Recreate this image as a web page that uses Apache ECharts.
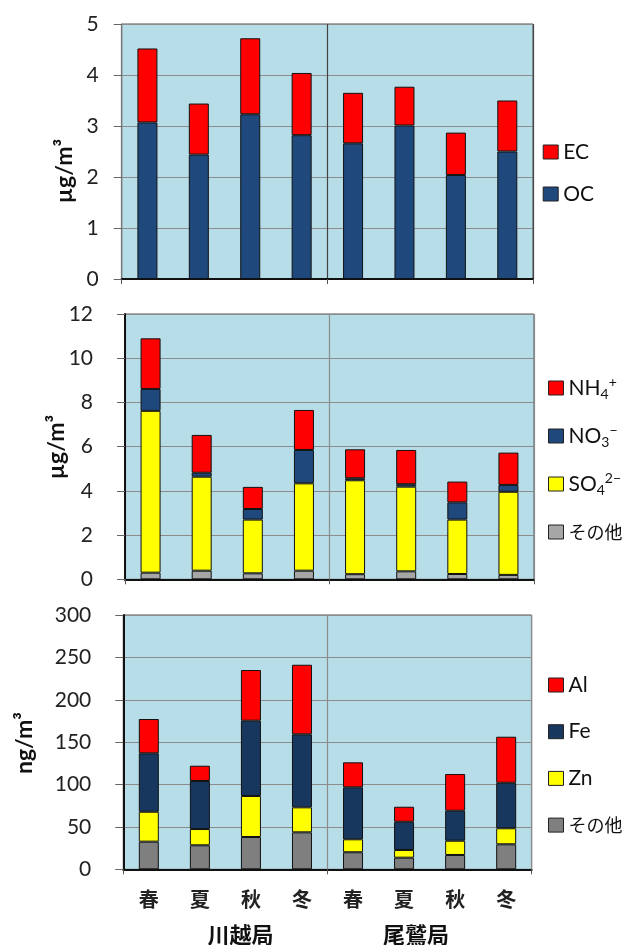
<!DOCTYPE html>
<html>
<head>
<meta charset="utf-8">
<script src="https://cdn.jsdelivr.net/npm/echarts@6/dist/echarts.min.js"></script>
<style>
html,body{margin:0;padding:0;background:#fff;}
#chart{width:627px;height:945px;}
</style>
</head>
<body>
<div id="chart"></div>
<script>
// ---- data ----
const seasons = ['春','夏','秋','冬','春','夏','秋','冬'];
const stations = ['川越局','尾鷲局'];

// panel 1 (µg/m3)
const ocVals = [3.07, 2.44, 3.23, 2.82, 2.66, 3.01, 2.04, 2.50];
const ecVals = [1.45, 1.00, 1.49, 1.22, 0.99, 0.76, 0.83, 1.00];

// panel 2 (µg/m3)
const ionOther = [0.30, 0.39, 0.27, 0.39, 0.23, 0.36, 0.24, 0.20];
const so4Vals  = [7.32, 4.25, 2.43, 3.95, 4.25, 3.83, 2.46, 3.76];
const no3Vals  = [0.99, 0.18, 0.48, 1.51, 0.09, 0.11, 0.78, 0.31];
const nh4Vals  = [2.29, 1.71, 1.00, 1.81, 1.31, 1.55, 0.94, 1.46];

// panel 3 (ng/m3)
const metalOther = [32.6, 28.3, 38.1, 43.6, 20.1, 13.7, 16.9, 29.5];
const znVals     = [35.3, 19.2, 48.4, 29.5, 15.3, 9.1, 16.8, 18.9];
const feVals     = [68.9, 56.7, 88.8, 86.1, 61.3, 33.3, 35.4, 53.7];
const alVals     = [40.5, 18.0, 59.8, 82.1, 29.5, 17.7, 43.3, 54.3];

// axis ranges
const yMax = [5, 12, 300];
const yStep = [1, 2, 50];
const yNames = ['µg/m³', 'µg/m³', 'ng/m³'];

// ---- chart ----
const FONT = 'Lato, "Noto Sans CJK JP", sans-serif';
const CJK = '"Noto Sans CJK JP", sans-serif';
const BG = '#b7dde8';
const RED = '#ff0000', BLUE = '#1f497d', NAVY = '#17375e', YEL = '#ffff00';

const grids = [
  {left: 121.7, top: 24, width: 411.3, height: 255},
  {left: 125, top: 314, width: 409, height: 265.3},
  {left: 123.3, top: 615, width: 408.4, height: 254.3}
].map(g => Object.assign(g, {show: true, backgroundColor: BG, borderColor: '#555', borderWidth: 1}));

const dividerColor = ['#444', '#8c8c8c', '#8c8c8c'];
const xAxes = [0,1,2].map(i => ({
  type: 'category', gridIndex: i, data: seasons, position: 'bottom',
  axisLine: {lineStyle: {color: '#111', width: 2}},
  axisTick: {show: false},
  splitLine: {show: false},
  axisLabel: i === 2 ? {show: true, interval: 0, margin: 20, fontFamily: CJK, fontWeight: 'bold', fontSize: 20, color: '#222'} : {show: false}
})).concat([0,1,2].map(i => ({
  // group divider axis: one tick per station group
  type: 'value', gridIndex: i, min: 0, max: seasons.length, interval: seasons.length / stations.length,
  position: 'bottom', offset: 0,
  axisLine: {show: false},
  axisTick: {show: true, length: 5, lineStyle: {color: '#555'}},
  axisLabel: {show: false},
  splitLine: {show: true, lineStyle: {color: dividerColor[i], width: 1.2}}
})));

const yAxes = [0,1,2].map(i => ({
  type: 'value', gridIndex: i, min: 0, max: yMax[i], interval: yStep[i],
  axisLine: {show: true, lineStyle: {color: i === 0 ? '#777' : '#111', width: i === 0 ? 1 : 2}},
  axisTick: {show: true, length: 8, lineStyle: {color: '#666'}},
  splitLine: {show: true, lineStyle: {color: '#8c8c8c', width: 1.2}},
  axisLabel: {margin: i === 0 ? 23 : 32, fontFamily: FONT, fontSize: 21, color: '#222'}
}));

const itemBorder = {borderColor: '#111', borderWidth: 1};
function bar(name, data, idx, color) {
  return {
    name: name, type: 'bar', stack: 'p' + idx, xAxisIndex: idx, yAxisIndex: idx,
    data: data, barWidth: 20,
    itemStyle: Object.assign({color: color}, itemBorder)
  };
}

const series = [
  bar('OC', ocVals, 0, BLUE),
  bar('EC', ecVals, 0, RED),
  bar('その他', ionOther, 1, '#a6a6a6'),
  bar('SO4', so4Vals, 1, YEL),
  bar('NO3', no3Vals, 1, BLUE),
  bar('NH4', nh4Vals, 1, RED),
  bar('その他2', metalOther, 2, '#7f7f7f'),
  bar('Zn', znVals, 2, YEL),
  bar('Fe', feVals, 2, NAVY),
  bar('Al', alVals, 2, RED)
];

const legendLabel = {
  'NH4': '{a|NH}{s|4}{p|+}',
  'NO3': '{a|NO}{s|3}{p|−}',
  'SO4': '{a|SO}{s|4}{p|2−}',
  'その他': '{j|その他}',
  'その他2': '{j|その他}'
};
const rich = {
  a: {fontFamily: FONT, fontSize: 21, color: '#111', lineHeight: 26},
  s: {fontFamily: FONT, fontSize: 14, color: '#111', verticalAlign: 'bottom', lineHeight: 26},
  p: {fontFamily: FONT, fontSize: 14, color: '#111', verticalAlign: 'top', lineHeight: 26},
  j: {fontFamily: CJK, fontSize: 18, color: '#111', lineHeight: 26}
};
function legend(data, left, top, gap) {
  return {
    data: data, orient: 'vertical', left: left, top: top, padding: 0,
    itemWidth: 15, itemHeight: 14, itemGap: gap, icon: 'rect',
    selectedMode: false,
    itemStyle: {borderColor: '#222', borderWidth: 1},
    formatter: (n) => legendLabel[n] || '{a|' + n + '}',
    textStyle: {fontFamily: FONT, fontSize: 21, color: '#111', lineHeight: 26, rich: rich}
  };
}

const yNamePos = [[65, 171], [56.7, 447], [25, 743]];
const graphics = yNames.map((t, i) => ({
  type: 'text', x: yNamePos[i][0], y: yNamePos[i][1], rotation: Math.PI / 2,
  style: {text: t, fontFamily: FONT, fontWeight: 'bold', fontSize: 23, fill: '#111', align: 'center', verticalAlign: 'middle'}
})).concat(stations.map((s, i) => ({
  type: 'text', x: [240.5, 416][i], y: 935,
  style: {text: s, fontFamily: CJK, fontWeight: 'bold', fontSize: 22, fill: '#111', align: 'center', verticalAlign: 'middle'}
})));

const chart = echarts.init(document.getElementById('chart'), null, {renderer: 'canvas'});
chart.setOption({
  animation: false,
  backgroundColor: '#fff',
  grid: grids,
  xAxis: xAxes,
  yAxis: yAxes,
  legend: [
    legend(['EC', 'OC'], 542.7, 139, 16),
    legend(['NH4', 'NO3', 'SO4', 'その他'], 548, 375, 22),
    legend(['Al', 'Fe', 'Zn', 'その他2'], 548, 672, 20.7)
  ],
  graphic: graphics,
  series: series
});
</script>
</body>
</html>
